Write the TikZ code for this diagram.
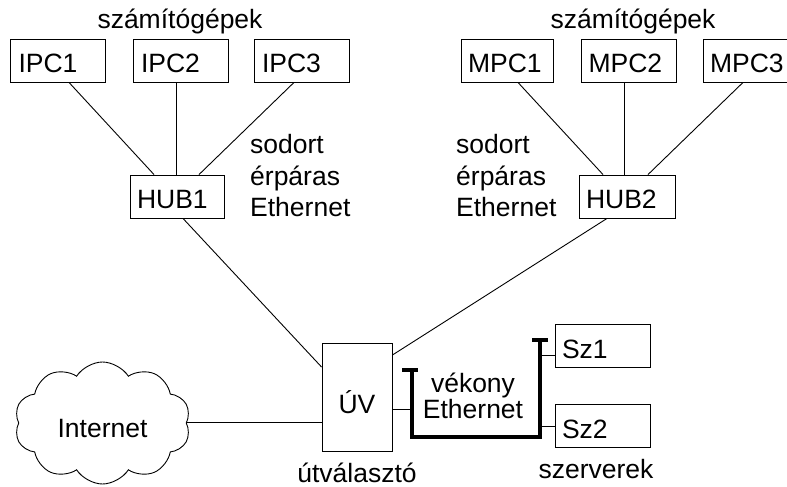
\documentclass[tikz,border=0pt]{standalone}
\usepackage{fontspec}
\setmainfont{Liberation Sans}
\usetikzlibrary{shapes.symbols}

\begin{document}
\begin{tikzpicture}[x=1pt, y=-1pt,
    every node/.style={font=\fontsize{26.5}{31}\selectfont},
    link/.style={line width=0.9pt},
    bus/.style={line width=3.6pt},
    devbox/.style={draw, line width=0.9pt, minimum width=95pt, minimum height=43pt,
                   text width=79pt, inner xsep=8pt, align=left,
                   text height=24pt, text depth=0pt},
    hubbox/.style={devbox, text height=23pt},
    caption/.style={inner sep=0pt, anchor=base},
    note/.style={inner sep=0pt, anchor=base west}]

\useasboundingbox (0,0) rectangle (787,487);

% --- left workgroup ---
\node[caption] (capL) at (180,29) {számítógépek};
\node[devbox] (IPC1) at (58,60.5) {IPC1};
\node[devbox] (IPC2) at (180.5,60.5) {IPC2};
\node[devbox] (IPC3) at (301.5,60.5) {IPC3};
\node[hubbox, minimum width=94pt, text width=80pt, inner xsep=7pt] (HUB1) at (177,196.5) {HUB1};
\node[note] (twL1) at (250,153) {sodort};
\node[note] (twL2) at (250,185) {érpáras};
\node[note] (twL3) at (250,216) {Ethernet};

% --- right workgroup ---
\node[caption] (capR) at (633,29) {számítógépek};
\node[devbox, minimum width=92pt, text width=78pt, inner xsep=7pt] (MPC1) at (507,60.5) {MPC1};
\node[devbox, text width=81pt, inner xsep=7pt] (MPC2) at (629,60.5) {MPC2};
\node[devbox, text width=81pt, inner xsep=7pt] (MPC3) at (750.5,60.5) {MPC3};
\node[hubbox, minimum width=96pt, text width=82pt, inner xsep=7pt] (HUB2) at (627,196.5) {HUB2};
\node[note] (twR1) at (456,153) {sodort};
\node[note] (twR2) at (456,185) {érpáras};
\node[note] (twR3) at (456,216) {Ethernet};

% --- router, internet, servers ---
\node[draw, line width=0.9pt, minimum width=70pt, minimum height=108pt,
      text height=32pt, text depth=0pt] (UV) at (357,397) {ÚV};
\node[caption] (uvcap) at (357,482) {útválasztó};

\node[draw, line width=0.9pt, cloud, cloud puffs=10, cloud puff arc=115,
      cloud ignores aspect, minimum width=176pt, minimum height=122pt, inner sep=0pt,
      text height=28pt, text depth=0pt] (NET) at (102.5,423) {Internet};

\node[devbox, text width=81pt, inner xsep=7pt] (Sz1) at (602.5,346) {Sz1};
\node[devbox, text width=81pt, inner xsep=7pt, text height=24pt] (Sz2) at (602.5,426) {Sz2};
\node[caption] (srvcap) at (596,478) {szerverek};

\node[caption] (thin1) at (473,392) {vékony};
\node[caption] (thin2) at (473,418) {Ethernet};

% --- twisted pair links ---
\draw[link] ([xshift=11pt]IPC1.south) -- ([xshift=-23pt]HUB1.north);
\draw[link] ([xshift=-4.5pt]IPC2.south) -- ([xshift=-1pt]HUB1.north);
\draw[link] ([xshift=-7.5pt]IPC3.south) -- ([xshift=22pt]HUB1.north);
\draw[link] ([xshift=11pt]MPC1.south) -- ([xshift=-24pt]HUB2.north);
\draw[link] ([xshift=-5pt]MPC2.south) -- ([xshift=-3pt]HUB2.north);
\draw[link] ([xshift=-7.5pt]MPC3.south) -- ([xshift=21pt]HUB2.north);

% --- uplinks to the router ---
\draw[link] ([xshift=6pt]HUB1.south) -- ([yshift=30pt]UV.west);
\draw[link] ([xshift=-20pt]HUB2.south) -- ([yshift=42pt]UV.east);
\draw[link] (NET.east |- 0,422) -- ([yshift=-25pt]UV.west);

% --- thin Ethernet bus ---
\coordinate (busLtop) at (412,370);
\coordinate (busLbot) at (412,437);
\coordinate (busRbot) at (540,437);
\coordinate (busRtop) at (540,340);
\draw[bus] (busLtop) -- (busLbot) -- (busRbot) -- (busRtop);
\draw[bus] ([xshift=-10pt]busLtop) -- ([xshift=6pt]busLtop);
\draw[bus] ([xshift=-8pt]busRtop) -- ([xshift=8pt]busRtop);
\draw[link] ([yshift=-12pt]UV.east) -- ([yshift=-12pt]UV.east -| busLtop);
\draw[link] ([yshift=-9pt]Sz1.west) -- ([yshift=-9pt]Sz1.west -| busRtop);
\draw[link] (Sz2.west) -- (Sz2.west -| busRtop);

\end{tikzpicture}
\end{document}
